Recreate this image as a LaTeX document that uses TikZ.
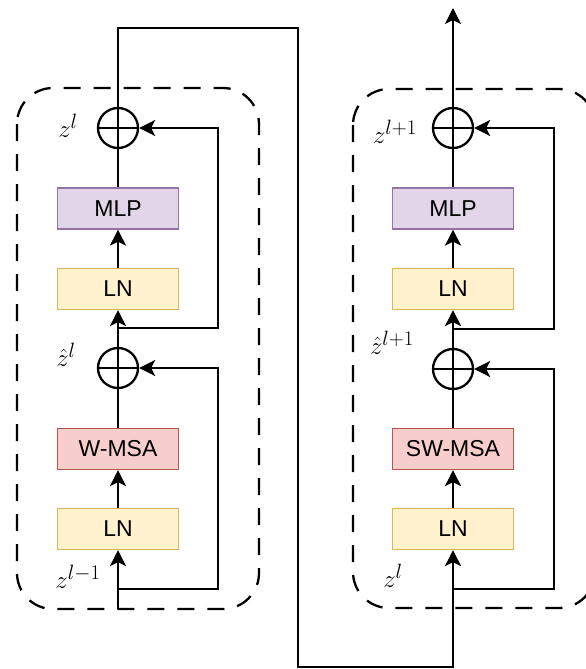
\documentclass[tikz,border=0pt]{standalone}
\usepackage{fontspec}
\setsansfont{Liberation Sans}
\usetikzlibrary{arrows.meta}
\definecolor{mlpf}{HTML}{E1D5E7}\definecolor{mlpd}{HTML}{9673A6}
\definecolor{lnf}{HTML}{FFF2CC}\definecolor{lnd}{HTML}{D6B656}
\definecolor{msaf}{HTML}{F8CECC}\definecolor{msad}{HTML}{B85450}
\begin{document}
\begin{tikzpicture}[x=1pt,y=-1pt,
  blk/.style={draw, line width=1.2pt, minimum width=121pt, minimum height=41pt, inner sep=0pt,
    font=\sffamily\fontsize{23}{26}\selectfont},
  mlp/.style={blk, fill=mlpf, draw=mlpd},
  lnb/.style={blk, fill=lnf, draw=lnd},
  msa/.style={blk, fill=msaf, draw=msad},
  plus/.style={circle, draw, line width=2.3pt, minimum size=40pt, inner sep=0pt,
    path picture={\draw[line width=2.3pt] (path picture bounding box.north) -- (path picture bounding box.south)
      (path picture bounding box.west) -- (path picture bounding box.east);}},
  wire/.style={line width=2.4pt},
  arr/.style={wire, -{Stealth[length=16pt,width=16pt,inset=4pt]}},
  frame/.style={line width=2.3pt, dash pattern=on 17pt off 13pt, rounded corners=36pt},
  lab/.style={font=\fontsize{28}{32}\selectfont, inner sep=0pt}
]
\useasboundingbox (0,0) rectangle (586,669);
\fill[white] (0,0) rectangle (586,669);

% frames
\draw[frame] (17,88) rectangle (259,609);
\draw[frame] (353,89) rectangle (595,608);

% left block
\node[lnb] (ln1) at (118,529) {LN};
\node[msa] (wmsa) at (118,449) {W-MSA};
\node[plus] (c1) at (118,368) {};
\node[lnb] (ln2) at (118,289) {LN};
\node[mlp] (mlp1) at (118,208.5) {MLP};
\node[plus] (c2) at (118,128) {};
\coordinate (in1) at (118,609);
\coordinate (j1) at (118,589);
\coordinate (j2) at (118,328);

\draw[arr] (in1) -- (ln1.south);
\draw[arr] (ln1) -- (wmsa);
\draw[wire] (wmsa) -- (c1);
\draw[arr] (j1) -- (218,589) -- (218,368) -- (c1.east);
\draw[arr] (c1) -- (ln2);
\draw[arr] (ln2) -- (mlp1);
\draw[wire] (mlp1) -- (c2);
\draw[arr] (j2) -- (218,328) -- (218,128) -- (c2.east);

% right block
\node[lnb] (ln3) at (453,529) {LN};
\node[msa] (swmsa) at (453,449) {SW-MSA};
\node[plus] (c3) at (453,369) {};
\node[lnb] (ln4) at (453,289) {LN};
\node[mlp] (mlp2) at (453,208.5) {MLP};
\node[plus] (c4) at (453,128) {};
\coordinate (j3) at (453,589);
\coordinate (j4) at (453,329);
\coordinate (out) at (453,8);

\draw[arr] (c2.north) -- (118,28) -- (298,28) -- (298,667) -- (453,667) -- (ln3.south);
\draw[arr] (ln3) -- (swmsa);
\draw[wire] (swmsa) -- (c3);
\draw[arr] (j3) -- (554,589) -- (554,369) -- (c3.east);
\draw[arr] (c3) -- (ln4);
\draw[arr] (ln4) -- (mlp2);
\draw[wire] (mlp2) -- (c4);
\draw[arr] (j4) -- (554,329) -- (554,128) -- (c4.east);
\draw[arr] (c4) -- (out);

% labels
\node[lab] (l1) at (68,126) {$z^l$};
\node[lab] (l2) at (66,355) {$\hat{z}^l$};
\node[lab] (l3) at (78,577) {$z^{l-1}$};
\node[lab] (l4) at (395,132) {$z^{l+1}$};
\node[lab] (l5) at (392,343) {$\hat{z}^{l+1}$};
\node[lab] (l6) at (393,576) {$z^l$};
\end{tikzpicture}
\end{document}
